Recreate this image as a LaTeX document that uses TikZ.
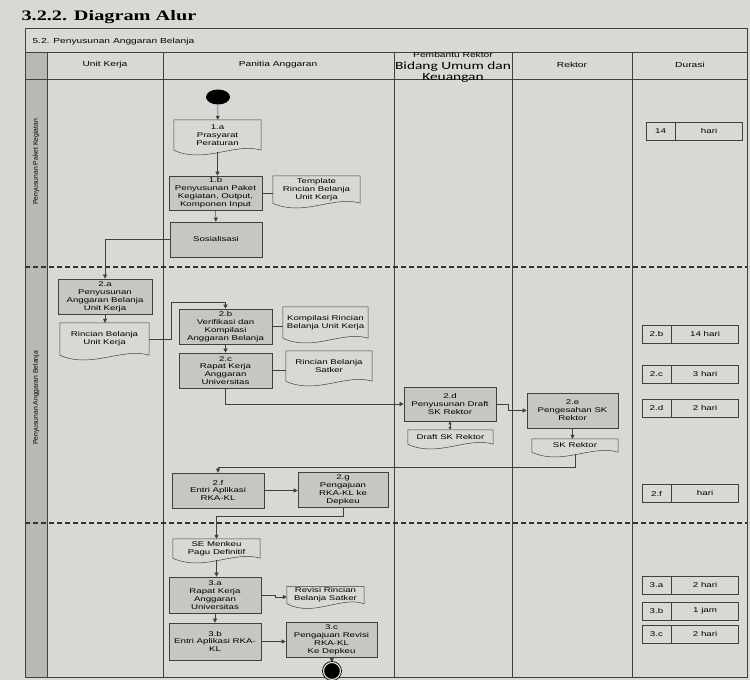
\documentclass[tikz,border=0pt]{standalone}
\usepackage{fontspec}
\usepackage{tikz}
\usetikzlibrary{calc}
\usetikzlibrary{positioning,arrows.meta}
\usetikzlibrary{shapes.geometric}
\usepackage{xcolor}

\newfontfamily\flowfont{Liberation Sans}[FakeStretch=1.4]
\newfontfamily\bidangfont{Carlito}[FakeStretch=1.4]
\newfontfamily\titlefont{Liberation Serif}[FakeStretch=1.4]
\newfontfamily\lanefont{Liberation Sans}

\definecolor{paper}{RGB}{216,216,212}
\definecolor{boxgray}{RGB}{198,198,194}
\definecolor{lanegray}{RGB}{184,184,180}
\definecolor{ink}{RGB}{64,64,64}

\tikzset{
  proc/.style={draw=ink, fill=boxgray, line width=0.6pt, rectangle, align=center,
    inner sep=1pt, font=\flowfont\fontsize{6.9}{7.9}\selectfont},
  doc/.style={rectangle, align=center, inner sep=1pt,
    font=\flowfont\fontsize{6.9}{7.9}\selectfont},
  dleft/.style={draw=ink, line width=0.6pt, minimum width=29pt, minimum height=18pt,
    inner sep=0pt, font=\flowfont\fontsize{7}{8.3}\selectfont},
  dright/.style={dleft, minimum width=67pt},
  flow/.style={draw=ink, line width=0.5pt, -{Triangle[length=4pt,width=4pt]}},
  link/.style={draw=ink, line width=0.5pt},
  frame/.style={draw=ink, line width=0.7pt},
  lanesep/.style={draw=ink!80!black, line width=1.3pt, dash pattern=on 5pt off 3pt},
  headtext/.style={font=\flowfont\fontsize{7.3}{8.5}\selectfont},
}

\begin{document}
\begin{tikzpicture}[x=1pt,y=1pt]
% \draw[help lines, step=50] (0,0) grid (750,680);
\fill[paper] (0,0) rectangle (750,680);
\useasboundingbox (0,0) rectangle (750,680);

% lanes and header
\fill[lanegray] (25,3) rectangle (47,628);
\draw[frame] (25,3) rectangle (747,652);
\draw[frame] (25,628) -- (747,628);
\draw[frame] (25,601) -- (747,601);
\foreach \x in {47,163,394,512,632}
  \draw[frame] (\x,3) -- (\x,628);
\draw[lanesep] (25,413) -- (747,413);
\draw[lanesep] (25,157) -- (747,157);

\node[anchor=west, font=\titlefont\bfseries\fontsize{14.5}{16}\selectfont] (title) at (18,663) {3.2.2. Diagram Alur};
\node[anchor=west, headtext] (sub) at (29,638) {5.2. Penyusunan Anggaran Belanja};
\node[headtext] (hunit) at (105,615) {Unit Kerja};
\node[headtext] (hpanitia) at (278,615) {Panitia Anggaran};
\node[headtext] (hpembantu) at (453,625) {Pembantu Rektor};
\node[font=\bidangfont\fontsize{11}{11.5}\selectfont, align=center] (hbidang) at (453,608) {Bidang Umum dan\\Keuangan};
\node[headtext] (hrektor) at (572,615) {Rektor};
\node[headtext] (hdurasi) at (690,615) {Durasi};

\node[rotate=90, font=\lanefont\fontsize{6.8}{7}\selectfont] (lane1) at (36,518) {Penyusunan Paket Kegiatan};
\node[rotate=90, font=\lanefont\fontsize{6.8}{7}\selectfont] (lane2) at (36,282) {Penyusunan Anggaran Belanja};

% lane 1
\node[ellipse, fill=black, minimum width=24pt, minimum height=15pt, inner sep=0pt] (start) at (218,583) {};
\node[doc, minimum width=87pt, minimum height=30pt] (p1a) at (217.5,545) {1.a\\Prasyarat\\Peraturan};
\node[proc, minimum width=93pt, minimum height=34pt] (p1b) at (215.5,487) {1.b\\Penyusunan Paket\\Kegiatan, Output,\\Komponen Input};
\node[doc, minimum width=87pt, minimum height=27pt] (tmpl) at (316.5,490.5) {Template\\Rincian Belanja\\Unit Kerja};
\node[proc, minimum width=92pt, minimum height=35pt] (sos) at (216,440.5) {Sosialisasi};

% lane 2
\node[proc, minimum width=94pt, minimum height=35pt] (p2a) at (105,383.5) {2.a\\Penyusunan\\Anggaran Belanja\\Unit Kerja};
\node[doc, minimum width=89pt, minimum height=32pt] (rinc) at (104.5,341) {Rincian Belanja\\Unit Kerja};
\node[proc, minimum width=93pt, minimum height=35pt] (p2b) at (225.5,353.5) {2.b\\Verifikasi dan\\Kompilasi\\Anggaran Belanja};
\node[doc, minimum width=85pt, minimum height=31pt] (komp) at (325.5,357.5) {Kompilasi Rincian\\Belanja Unit Kerja};
\node[proc, minimum width=93pt, minimum height=35pt] (p2c) at (225.5,309.5) {2.c\\Rapat Kerja\\Anggaran\\Universitas};
\node[doc, minimum width=86pt, minimum height=30pt] (satk) at (329,314) {Rincian Belanja\\Satker};
\node[proc, minimum width=92pt, minimum height=34pt] (p2d) at (450,276) {2.d\\Penyusunan Draft\\SK Rektor};
\node[doc, minimum width=85pt, minimum height=14pt] (draft) at (450.5,243) {Draft SK Rektor};
\node[proc, minimum width=91pt, minimum height=35pt] (p2e) at (572.5,269.5) {2.e\\Pengesahan SK\\Rektor};
\node[doc, minimum width=86pt, minimum height=13pt] (sk) at (575,234.5) {SK Rektor};
\node[proc, minimum width=92pt, minimum height=35pt] (p2f) at (218,189.5) {2.f\\Entri Aplikasi\\RKA-KL};
\node[proc, minimum width=90pt, minimum height=35pt] (p2g) at (343,190.5) {2.g\\Pengajuan\\RKA-KL ke\\Depkeu};

% lane 3
\node[doc, minimum width=87pt, minimum height=19pt] (se) at (216.5,131.5) {SE Menkeu\\Pagu Definitif};
\node[proc, minimum width=92pt, minimum height=36pt] (p3a) at (215,85) {3.a\\Rapat Kerja\\Anggaran\\Universitas};
\node[doc, minimum width=77pt, minimum height=17pt] (rev) at (325.5,85) {Revisi Rincian\\Belanja Satker};
\node[proc, minimum width=92pt, minimum height=37pt] (p3b) at (215,38.5) {3.b\\Entri Aplikasi RKA-\\KL};
\node[proc, minimum width=91pt, minimum height=35pt] (p3c) at (331.5,40.5) {3.c\\Pengajuan Revisi\\RKA-KL\\Ke Depkeu};
\node[circle, fill=black, draw=black, line width=0.8pt, double=paper, double distance=1.2pt,
  minimum size=17pt, inner sep=0pt] (stop) at (332,9) {};

% document outlines
\foreach \d in {p1a,tmpl,rinc,komp,satk,draft,sk,se,rev}
  \draw[link] (\d.south west) -- (\d.north west) -- (\d.north east) -- (\d.south east)
    .. controls ($(\d.south east)!0.3!(\d.south west)+(0,8)$) and ($(\d.south east)!0.65!(\d.south west)+(0,-14)$) .. (\d.south west);

% durasi
\node[dleft] (d1a) at (660.5,548.5) {14};
\node[dright, right=0pt of d1a] (d1b) {hari};
\node[dleft] (d2b) at (656.5,345.5) {2.b};
\node[dright, right=0pt of d2b] (d2bt) {14 hari};
\node[dleft] (d2c) at (656.5,305.5) {2.c};
\node[dright, right=0pt of d2c] (d2ct) {3 hari};
\node[dleft] (d2d) at (656.5,271.5) {2.d};
\node[dright, right=0pt of d2d] (d2dt) {2 hari};
\node[dleft] (d2f) at (656.5,186.5) {2.f};
\node[dright, right=0pt of d2f] (d2ft) {hari};
\node[dleft] (d3a) at (656.5,94.5) {3.a};
\node[dright, right=0pt of d3a] (d3at) {2 hari};
\node[dleft] (d3b) at (656.5,69) {3.b};
\node[dright, right=0pt of d3b] (d3bt) {1 jam};
\node[dleft] (d3c) at (656.5,46) {3.c};
\node[dright, right=0pt of d3c] (d3ct) {2 hari};

% connectors
\draw[flow] (start) -- (p1a);
\draw[flow] ([yshift=-2pt]p1a.south) -- (p1a.south |- p1b.north);
\draw[link] (p1b.east) -- (p1b.east -| tmpl.west);
\draw[flow] (p1b) -- (sos);
\draw[flow] (sos.west) -| (p2a.north);
\draw[flow] (p2a.south) -- (p2a.south |- rinc.north);
\draw[flow] (rinc.east) -- ++(22,0) |- ($(p2b.north)+(0,6)$) -- (p2b.north);
\draw[link] (p2b.east) -- (p2b.east -| komp.west);
\draw[flow] (p2b) -- (p2c);
\draw[link] (p2c.east) -- (p2c.east -| satk.west);
\draw[flow] (p2c.south) |- (p2d.west);
\draw[flow] (p2d.east) -- ++(12,0) |- (p2e.west);
\draw[link, {Triangle[length=3pt,width=3pt]}-{Triangle[length=3pt,width=3pt]}] (p2d.south) -- (p2d.south |- draft.north);
\draw[flow] (p2e.south) -- (p2e.south |- sk.north);
\draw[flow] ([yshift=-2pt]sk.south) -- ++(0,-13) -| (p2f.north);
\draw[flow] (p2f.east) -- (p2f.east -| p2g.west);
\draw[flow] (p2g.south) -- ++(0,-9) -| (se.north);
\draw[flow] ([yshift=-2pt]se.south) -- (se.south |- p3a.north);
\draw[flow] (p3a.east) -- ++(14,0) |- ([yshift=-2pt]rev.west);
\draw[flow] (p3a) -- (p3b);
\draw[flow] (p3b.east) -- (p3b.east -| p3c.west);
\draw[flow] (p3c) -- (stop);
\end{tikzpicture}
\end{document}
